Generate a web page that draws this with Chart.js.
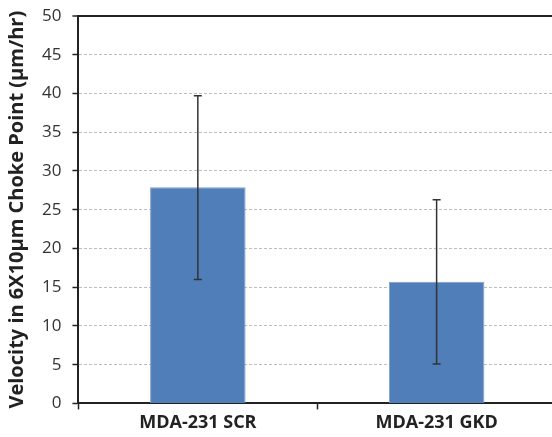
<!DOCTYPE html>
<html>
<head>
<meta charset="utf-8">
<script src="https://cdn.jsdelivr.net/npm/chart.js@4.4.0/dist/chart.umd.min.js"></script>
<style>
  html, body { margin: 0; padding: 0; overflow: hidden; background: #fff; }
  /* the plot runs slightly past the right edge of the window, like the original */
  #wrap { width: 556px; height: 437px; }
</style>
</head>
<body>
<div id="wrap"><canvas id="chart"></canvas></div>
<script>
  // ---------- Data ----------
  const categories = ['MDA-231 SCR', 'MDA-231 GKD'];
  const velocity   = [27.9, 15.7];
  const errLow     = [16.0, 5.1];
  const errHigh    = [39.7, 26.3];
  const yMin = 0, yMax = 50, yStep = 5;

  const ink = '#222';

  // ---------- Error bars (no plugin available, so draw them ourselves) ----------
  const errorBars = {
    id: 'errorBars',
    afterDatasetsDraw(chart) {
      const { ctx, scales: { y } } = chart;
      const meta = chart.getDatasetMeta(0);
      ctx.save();
      ctx.strokeStyle = '#333';
      ctx.lineWidth = 1.5;
      meta.data.forEach((bar, i) => {
        const x = bar.x;
        const top = y.getPixelForValue(errHigh[i]);
        const bot = y.getPixelForValue(errLow[i]);
        ctx.beginPath();
        ctx.moveTo(x, top); ctx.lineTo(x, bot);
        ctx.moveTo(x - 4, top); ctx.lineTo(x + 4, top);
        ctx.moveTo(x - 4, bot); ctx.lineTo(x + 4, bot);
        ctx.stroke();
      });
      ctx.restore();
    }
  };

  const isTop = c => c.tick && c.tick.value === yMax;
  const isZero = c => c.tick && c.tick.value === yMin;

  new Chart(document.getElementById('chart'), {
    type: 'bar',
    data: {
      labels: categories,
      datasets: [{
        data: velocity,
        backgroundColor: '#4f7eb8',
        borderColor: '#7d9fcb',
        borderWidth: 1,
        categoryPercentage: 1,
        barPercentage: 0.4
      }]
    },
    options: {
      responsive: true,
      maintainAspectRatio: false,
      animation: false,
      layout: { padding: { top: 16, left: 0, right: 0, bottom: 0 } },
      plugins: { legend: { display: false }, tooltip: { enabled: false } },
      scales: {
        x: {
          ticks: { color: ink, padding: 3, font: { family: 'Open Sans', size: 18, weight: 'bold' } },
          grid: { offset: true, drawOnChartArea: false, tickLength: 6, tickColor: ink, tickWidth: 1.5 },
          border: { color: ink, width: 2 }
        },
        y: {
          min: yMin, max: yMax,
          // tick padding otherwise pushes the plot top down
          afterFit: s => { s.paddingTop = 0; },
          ticks: { stepSize: yStep, color: '#333', padding: 11, font: { family: 'Open Sans', size: 17 } },
          grid: {
            color: c => isTop(c) ? ink : (isZero(c) ? 'rgba(0,0,0,0)' : '#bdbdbd'),
            lineWidth: c => isTop(c) ? 2 : 1,
            tickColor: ink, tickLength: 6, tickWidth: 1.5, tickBorderDash: []
          },
          border: { color: ink, width: 2, dash: c => isTop(c) ? [] : [3, 2] },
          title: {
            display: true,
            text: 'Velocity in 6X10µm Choke Point (µm/hr)',
            color: ink,
            font: { family: 'Open Sans', size: 20, weight: 'bold' },
            padding: { top: 5, bottom: 2 }
          }
        }
      }
    },
    plugins: [errorBars]
  });
</script>
</body>
</html>
